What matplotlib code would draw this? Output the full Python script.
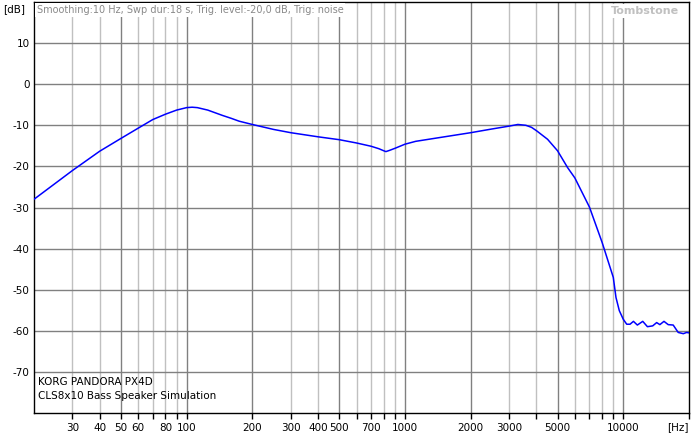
import matplotlib
matplotlib.use('Agg')
import matplotlib.pyplot as plt
from matplotlib.ticker import FixedLocator, FixedFormatter, NullFormatter

# frequency response
freq = [20, 30, 40, 50, 60, 70, 80, 90, 100, 106, 112, 125, 146, 160, 174, 200,
        250, 300, 400, 500, 600, 700, 760, 800, 818, 850, 900, 1000, 1120, 1435,
        2000, 2500, 3000, 3290, 3580, 3800, 4000, 4500, 5000, 5560, 6000, 7000,
        8000, 9000, 9260, 9590, 10000, 10370, 10740, 11130, 11600, 12280, 12900,
        13640, 14220, 14710, 15360, 16060, 16930, 17850, 18830, 19510, 20000]
level = [-28.0, -21.0, -16.3, -13.2, -10.7, -8.6, -7.3, -6.3, -5.7, -5.6, -5.7,
         -6.3, -7.6, -8.3, -9.0, -9.8, -11.0, -11.8, -12.8, -13.5, -14.3, -15.1,
         -15.7, -16.2, -16.4, -16.1, -15.6, -14.6, -13.9, -13.0, -11.8, -10.9,
         -10.2, -9.8, -10.0, -10.5, -11.3, -13.4, -16.2, -20.3, -22.8, -29.9,
         -38.5, -47.0, -51.9, -55.1, -57.2, -58.4, -58.4, -57.7, -58.6, -57.7,
         -59.0, -58.8, -58.0, -58.5, -57.7, -58.5, -58.6, -60.4, -60.7, -60.4,
         -60.5]

major_x = [50, 100, 200, 500, 1000, 2000, 5000, 10000]
minor_x = [30, 40, 60, 70, 80, 90, 300, 400, 600, 700, 800, 900,
           3000, 4000, 6000, 7000, 8000, 9000]
xlabels = [30, 40, 50, 60, 80, 100, 200, 300, 400, 500, 700, 1000, 2000,
           3000, 5000, 10000]
yticks = list(range(-70, 20, 10))

plt.rcParams['font.family'] = 'DejaVu Sans'
plt.rcParams['font.size'] = 7.5

fig = plt.figure(figsize=(6.92, 4.44), dpi=100)
ax = fig.add_axes([34 / 692, 31 / 444, 655 / 692, 411 / 444])

ax.set_xscale('log')
ax.set_xlim(20, 20000)
ax.set_ylim(-80, 20)

for f in minor_x:
    ax.axvline(f, color='#c0c0c0', lw=1, zorder=1)
for f in major_x:
    ax.axvline(f, color='#808080', lw=1, zorder=1)
for v in yticks:
    ax.axhline(v, color='#808080', lw=1, zorder=1)

ax.plot(freq, level, color='#0000ff', lw=1.1, zorder=3)

ax.xaxis.set_major_locator(FixedLocator(xlabels))
ax.xaxis.set_major_formatter(FixedFormatter([str(x) for x in xlabels]))
ax.xaxis.set_minor_locator(FixedLocator([70, 90, 600, 800, 900, 4000, 6000,
                                         7000, 8000, 9000, 20000]))
ax.xaxis.set_minor_formatter(NullFormatter())
ax.tick_params(axis='x', which='both', direction='out', length=4, width=1,
               color='black', pad=3, labelsize=7.5)
ax.set_yticks(yticks)
ax.set_yticklabels([str(v) for v in yticks])
ax.tick_params(axis='y', length=0, pad=3, labelsize=7.5)

for s in ax.spines.values():
    s.set_color('black')
    s.set_linewidth(1)

fig.text(3 / 692, 1 - 9 / 444, '[dB]', fontsize=7.5, va='center', ha='left')
fig.text(689 / 692, 1 - 427 / 444, '[Hz]', fontsize=7.5, va='center', ha='right')

ax.text(0.004, 0.993, 'Smoothing:10 Hz, Swp dur:18 s, Trig. level:-20,0 dB, Trig: noise',
        transform=ax.transAxes, ha='left', va='top', color='#8a8a8a', fontsize=7,
        zorder=4, bbox=dict(facecolor='white', edgecolor='none', pad=1.5))
ax.text(0.985, 0.99, 'Tombstone', transform=ax.transAxes, ha='right', va='top',
        color='#c0c0c0', fontsize=8, fontweight='bold', zorder=4,
        bbox=dict(facecolor='white', edgecolor='none', pad=1.5))
ax.text(0.006, 0.075, 'KORG PANDORA PX4D', transform=ax.transAxes, ha='left',
        va='center', fontsize=7.5, zorder=4)
ax.text(0.006, 0.041, 'CLS8x10 Bass Speaker Simulation', transform=ax.transAxes,
        ha='left', va='center', fontsize=7.5, zorder=4)

fig.savefig('out.png', dpi=100)
